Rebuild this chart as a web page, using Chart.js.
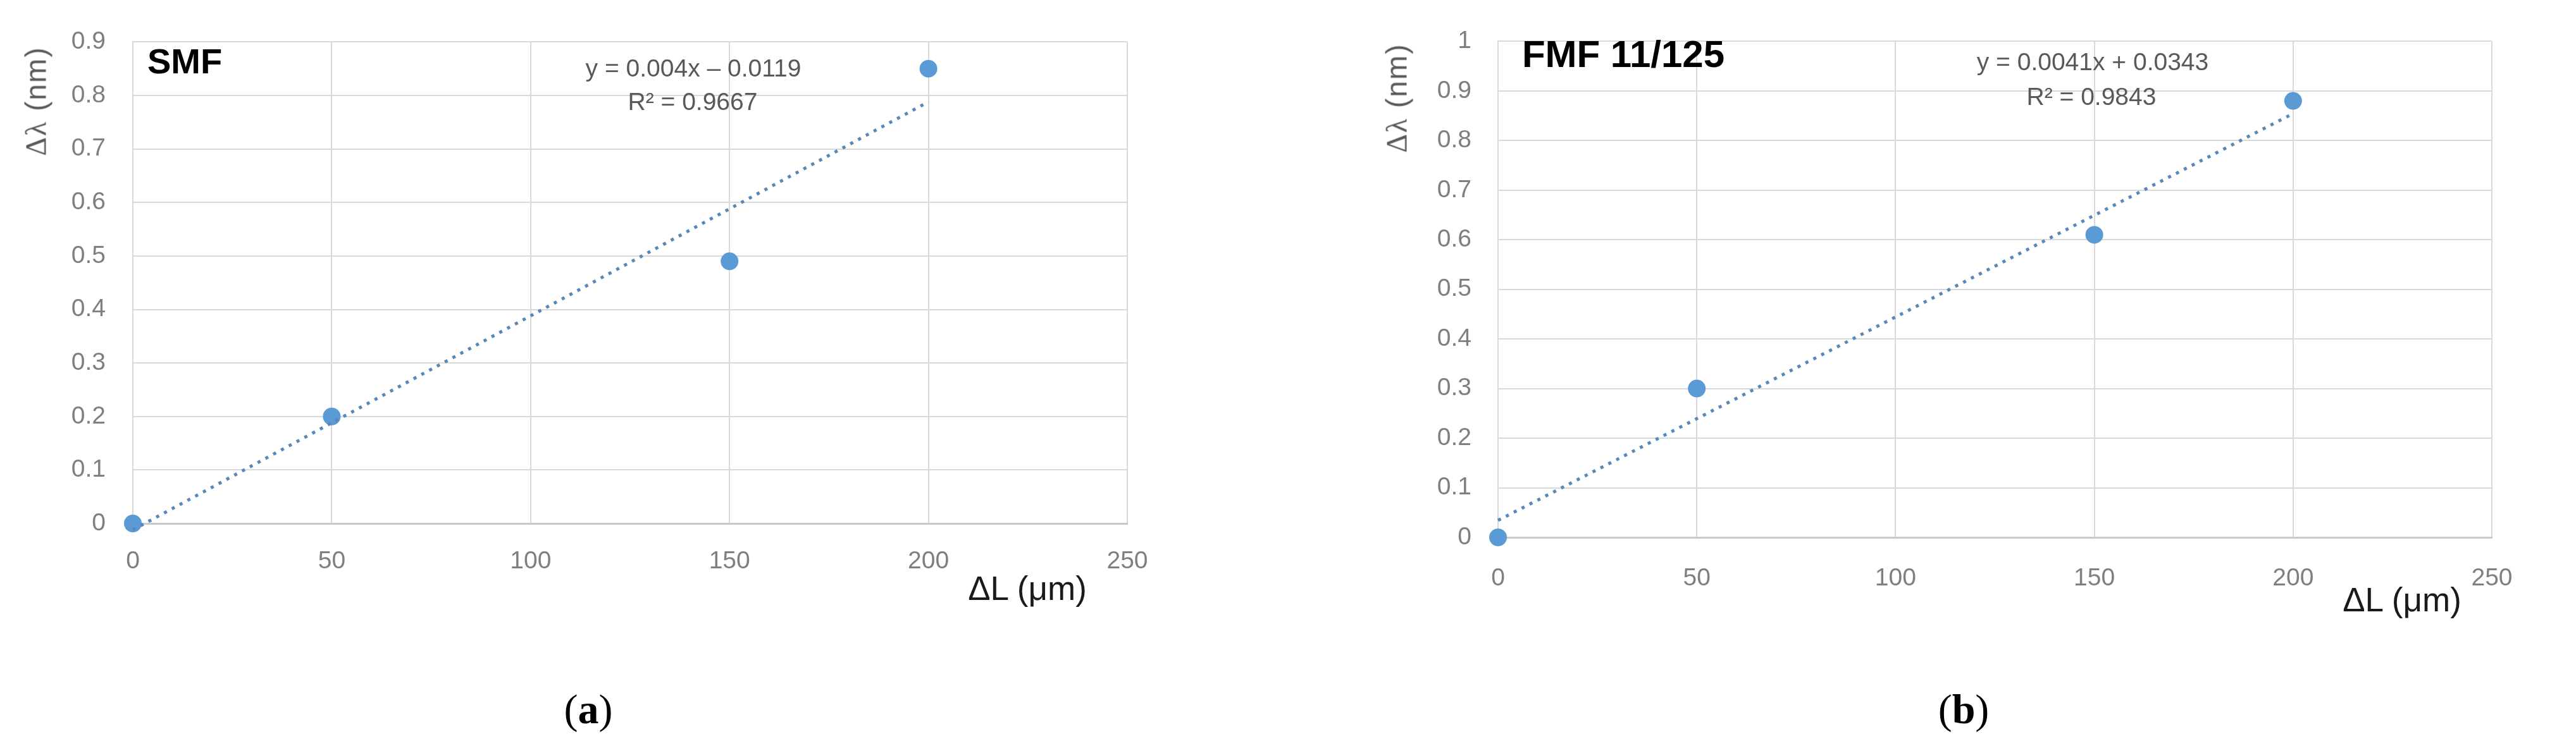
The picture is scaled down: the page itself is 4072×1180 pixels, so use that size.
<!DOCTYPE html>
<html>
<head>
<meta charset="utf-8">
<script src="https://cdn.jsdelivr.net/npm/chart.js@4.4.1/dist/chart.umd.min.js"></script>
<style>
body { margin: 0; background: #fff; width: 4072px; height: 1180px; position: relative; overflow: hidden; font-family: 'Liberation Sans', Arial, sans-serif; }
canvas { position: absolute; top: 0; }
.t { position: absolute; transform: translate(-50%, -50%); white-space: nowrap; line-height: 1; }
.name { font-weight: bold; color: #000; }
.eq { font-size: 39px; color: #595959; }
.ytitle { font-size: 46px; color: #595959; transform: translate(-50%, -50%) rotate(-90deg); letter-spacing: 2px; }
.ytitle span { font-family: 'Liberation Serif', serif; }
.xtitle { font-size: 53px; color: #1a1a1a; }
.panel { font-family: 'Liberation Serif', serif; font-size: 66px; color: #000; }
</style>
</head>
<body>
<canvas id="chartA" width="1900" height="1000" style="left:0px"></canvas>
<canvas id="chartB" width="1972" height="1000" style="left:2100px"></canvas>

<div class="t name" style="left:292px; top:97px; font-size:56px;">SMF</div>
<div class="t eq" style="left:1096px; top:107px;">y = 0.004x – 0.0119</div>
<div class="t eq" style="left:1095px; top:160px;">R² = 0.9667</div>
<div class="t ytitle" style="left:57px; top:160px;"><span>Δλ</span> (nm)</div>
<div class="t xtitle" style="left:1624px; top:930px;">ΔL (μm)</div>
<div class="t panel" style="left:930px; top:1122px;">(<b>a</b>)</div>

<div class="t name" style="left:2566px; top:86px; font-size:60px;">FMF 11/125</div>
<div class="t eq" style="left:3308px; top:97px;">y = 0.0041x + 0.0343</div>
<div class="t eq" style="left:3306px; top:152px;">R² = 0.9843</div>
<div class="t ytitle" style="left:2208px; top:155px;"><span>Δλ</span> (nm)</div>
<div class="t xtitle" style="left:3797px; top:948px;">ΔL (μm)</div>
<div class="t panel" style="left:3104px; top:1122px;">(<b>b</b>)</div>

<script>
// values
let lengthA = [0, 50, 150, 200];
let shiftA = [0, 0.2, 0.49, 0.85];
let trendXA = [0, 200];
let trendYA = [-0.0119, 0.7881];

let lengthB = [0, 50, 150, 200];
let shiftB = [0, 0.3, 0.61, 0.88];
let trendXB = [0, 200];
let trendYB = [0.0343, 0.8543];

let xTicks = ['0', '50', '100', '150', '200', '250'];
let yTicksA = ['0', '0.1', '0.2', '0.3', '0.4', '0.5', '0.6', '0.7', '0.8', '0.9'];
let yTicksB = ['0', '0.1', '0.2', '0.3', '0.4', '0.5', '0.6', '0.7', '0.8', '0.9', '1'];

let blue = '#5b9bd5';
let trendBlue = '#5688bb';
let gridColor = '#d9d9d9';
let tickFont = { family: 'Liberation Sans', size: 39 };

function pairs(xs, ys) {
    let out = [];
    for (let i = 0; i < xs.length; i++) {
        out.push({ x: xs[i], y: ys[i] });
    }
    return out;
}

function makeChart(id, xs, ys, tx, ty, yTicks, yMax, box) {
    let options = {
        type: 'scatter',
        data: {
            datasets: [{
                data: pairs(tx, ty),
                showLine: true,
                borderColor: trendBlue,
                borderWidth: 5,
                borderDash: [5, 9],
                pointRadius: 0,
                pointHoverRadius: 0,
                clip: false
            }, {
                data: pairs(xs, ys),
                pointRadius: 14,
                pointHoverRadius: 14,
                backgroundColor: blue,
                borderWidth: 0,
                clip: false
            }]
        },
        options: {
            responsive: false,
            animation: false,
            events: [],
            layout: { padding: { top: box.top, right: box.right, bottom: box.bottom, left: 0 } },
            plugins: { legend: { display: false }, tooltip: { enabled: false } },
            scales: {
                x: {
                    type: 'linear',
                    min: 0,
                    max: 250,
                    ticks: {
                        stepSize: 50,
                        padding: box.xPad,
                        maxRotation: 0,
                        color: '#7f7f7f',
                        font: tickFont,
                        callback: function (v, i) { return xTicks[i]; }
                    },
                    grid: { color: gridColor, lineWidth: 2, drawTicks: false },
                    border: { color: '#c9c9c9', width: 3 },
                    afterFit: function (s) { s.height = 100; }
                },
                y: {
                    type: 'linear',
                    min: 0,
                    max: yMax,
                    ticks: {
                        stepSize: 0.1,
                        padding: box.yPad,
                        color: '#7f7f7f',
                        font: tickFont,
                        callback: function (v, i) { return yTicks[i]; }
                    },
                    grid: { color: gridColor, lineWidth: 2, drawTicks: false },
                    border: { color: gridColor, width: 2 },
                    afterFit: function (s) { s.width = box.yWidth; }
                }
            }
        }
    };
    return new Chart(document.getElementById(id), options);
}

makeChart('chartA', lengthA, shiftA, trendXA, trendYA, yTicksA, 0.9,
    { top: 53, right: 118, bottom: 72, yWidth: 210, yPad: 43, xPad: 37 });
makeChart('chartB', lengthB, shiftB, trendXB, trendYB, yTicksB, 1,
    { top: 43, right: 133, bottom: 50, yWidth: 268, yPad: 42, xPad: 42 });
</script>
</body>
</html>
